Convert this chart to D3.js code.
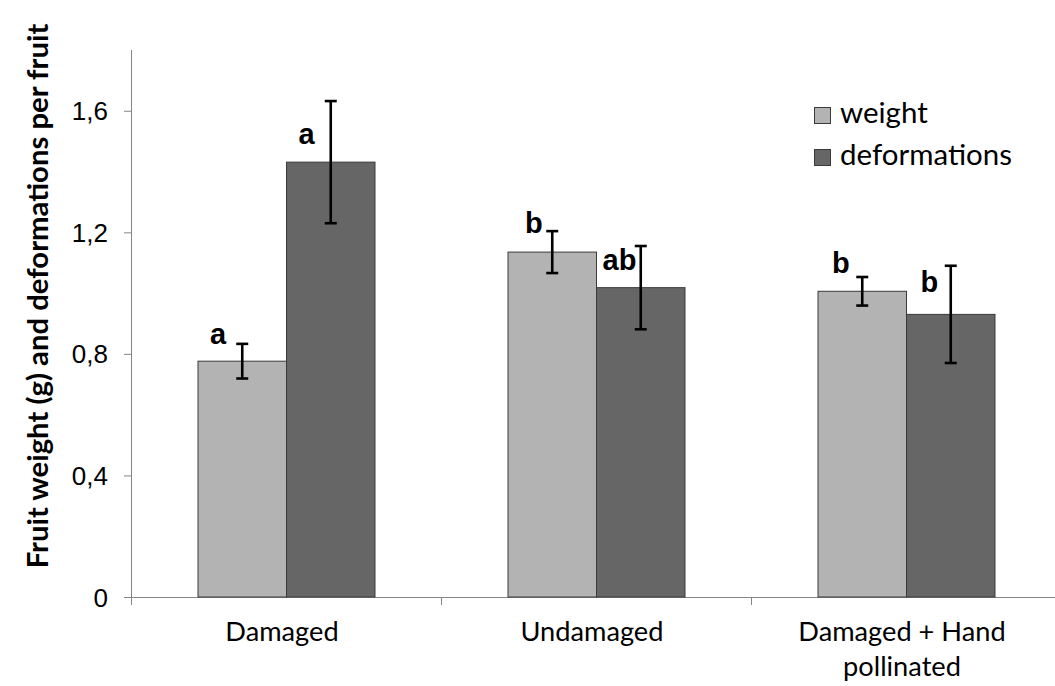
<!DOCTYPE html>
<html>
<head>
<meta charset="utf-8">
<script src="https://cdn.jsdelivr.net/npm/d3@7"></script>
<style>
  html, body { margin: 0; padding: 0; background: #fff; }
  svg { display: block; }
</style>
</head>
<body>
<svg id="chart" width="1055" height="686"></svg>
<script>
// ---- data ----
const categories = ["Damaged", "Undamaged", "Damaged + Hand pollinated"];
const categoryLines = [["Damaged"], ["Undamaged"], ["Damaged + Hand", "pollinated"]];
const seriesNames = ["weight", "deformations"];
const weightValues = [0.776, 1.135, 1.006];
const weightErrors = [0.057, 0.069, 0.047];
const deformValues = [1.431, 1.018, 0.930];
const deformErrors = [0.201, 0.137, 0.160];
const weightLetters = ["a", "b", "b"];
const deformLetters = ["a", "ab", "b"];
const yTicks = [0, 0.4, 0.8, 1.2, 1.6];
const yTickLabels = ["0", "0,4", "0,8", "1,2", "1,6"];
const yTitle = "Fruit weight (g) and deformations per fruit";

// ---- layout (not data) ----
const W = 1055, H = 686;
const plotLeft = 131, plotTop = 50, plotBottom = 597, plotRightBand = 1061;
const colors = { weight: "#b3b3b3", deformations: "#666666" };
// letter label placement: [dx from bar left, baseline offset in px from error-bar top]
const weightLetterPos = [[12, 0], [17, 2], [14, -4]];
const deformLetterPos = [[12, 43], [6, 24], [14, 26]];

const svg = d3.select("#chart");

const y = d3.scaleLinear().domain([0, 1.8]).range([plotBottom, plotTop]);
const x0 = d3.scaleBand().domain(categories).range([plotLeft, plotRightBand]).paddingInner(0).paddingOuter(0);
const groupW = 177;
const x1 = d3.scaleBand().domain(seriesNames)
  .range([(x0.bandwidth() - groupW) / 2 + 0.5, (x0.bandwidth() - groupW) / 2 + 0.5 + groupW]).padding(0);

const axisColor = "#868686";

// Y axis
const yAxis = d3.axisLeft(y).tickValues(yTicks).tickSize(7).tickFormat((d, i) => yTickLabels[i]);
const gy = svg.append("g").attr("transform", `translate(${plotLeft},0)`).call(yAxis);
gy.select(".domain").remove();
gy.selectAll(".tick line").attr("stroke", axisColor).attr("stroke-width", 1);
gy.selectAll(".tick text")
  .attr("font-family", "'Liberation Sans', Arial, sans-serif")
  .attr("font-size", 26)
  .attr("fill", "#000")
  .attr("x", -23)
  .attr("dy", "0.35em");
svg.append("line")
  .attr("x1", plotLeft + 0.5).attr("x2", plotLeft + 0.5)
  .attr("y1", plotTop).attr("y2", plotBottom + 8)
  .attr("stroke", axisColor).attr("stroke-width", 1);

// X axis
svg.append("line")
  .attr("x1", plotLeft).attr("x2", W)
  .attr("y1", plotBottom + 0.5).attr("y2", plotBottom + 0.5)
  .attr("stroke", axisColor).attr("stroke-width", 1);
const boundaries = categories.map(c => x0(c)).concat([x0(categories[categories.length - 1]) + x0.bandwidth()]);
svg.selectAll(".xtick").data(boundaries.slice(1)).enter().append("line")
  .attr("x1", d => Math.round(d) + 0.5).attr("x2", d => Math.round(d) + 0.5)
  .attr("y1", plotBottom).attr("y2", plotBottom + 8)
  .attr("stroke", axisColor).attr("stroke-width", 1);

// Bars
const groups = svg.selectAll(".grp").data(categories).enter().append("g")
  .attr("transform", c => `translate(${x0(c)},0)`);

const seriesData = [
  { name: "weight", values: weightValues, errors: weightErrors, letters: weightLetters, pos: weightLetterPos },
  { name: "deformations", values: deformValues, errors: deformErrors, letters: deformLetters, pos: deformLetterPos }
];

seriesData.forEach(s => {
  groups.append("rect")
    .attr("x", (c) => x1(s.name))
    .attr("y", (c, i) => y(s.values[i]))
    .attr("width", x1.bandwidth())
    .attr("height", (c, i) => y(0) - y(s.values[i]))
    .attr("fill", colors[s.name])
    .attr("stroke", "#3a3a3a")
    .attr("stroke-width", 1);
});

// Error bars
seriesData.forEach(s => {
  const cx = x1(s.name) + x1.bandwidth() / 2;
  const capW = 12;
  groups.append("line")
    .attr("x1", cx).attr("x2", cx)
    .attr("y1", (c, i) => y(s.values[i] + s.errors[i]))
    .attr("y2", (c, i) => y(s.values[i] - s.errors[i]))
    .attr("stroke", "#000").attr("stroke-width", 2.6);
  [1, -1].forEach(sign => {
    groups.append("line")
      .attr("x1", cx - capW / 2).attr("x2", cx + capW / 2)
      .attr("y1", (c, i) => y(s.values[i] + sign * s.errors[i]))
      .attr("y2", (c, i) => y(s.values[i] + sign * s.errors[i]))
      .attr("stroke", "#000").attr("stroke-width", 2.6);
  });
  groups.append("text")
    .attr("x", (c, i) => x1(s.name) + s.pos[i][0])
    .attr("y", (c, i) => y(s.values[i] + s.errors[i]) + s.pos[i][1])
    .attr("font-family", "'Liberation Sans', Arial, sans-serif")
    .attr("font-weight", "bold")
    .attr("font-size", 29)
    .attr("fill", "#000")
    .text((c, i) => s.letters[i]);
});

// helper: fit font size so text width equals target
function fitSize(sel, target) {
  const w = sel.node().getComputedTextLength();
  const fs = parseFloat(sel.attr("font-size"));
  sel.attr("font-size", fs * target / w);
  return fs * target / w;
}

const humanist = "Lato, 'Open Sans', sans-serif";

// Category labels
const probe = svg.append("text").attr("font-family", humanist).attr("font-size", 28).text("Undamaged");
const catSize = fitSize(probe, 143);
probe.remove();
categories.forEach((c, i) => {
  const cx = x0(c) + x0.bandwidth() / 2 - 4;
  const t = svg.append("text")
    .attr("font-family", humanist).attr("font-size", catSize)
    .attr("text-anchor", "middle").attr("fill", "#000");
  categoryLines[i].forEach((line, j) => {
    t.append("tspan").attr("x", cx).attr("y", 641 + j * 35).text(line);
  });
});

// Legend
const legendSizeProbe = svg.append("text").attr("font-family", humanist).attr("font-size", 30).text("deformations");
const legSize = fitSize(legendSizeProbe, 172);
legendSizeProbe.remove();
const legend = svg.append("g");
seriesNames.forEach((n, i) => {
  const yy = 107 + i * 42;
  legend.append("rect")
    .attr("x", 814.5).attr("y", yy + 0.5).attr("width", 16).attr("height", 16)
    .attr("fill", colors[n]).attr("stroke", "#3a3a3a").attr("stroke-width", 1);
  legend.append("text")
    .attr("x", 840).attr("y", yy + 16)
    .attr("font-family", humanist).attr("font-size", legSize).attr("fill", "#000")
    .text(n);
});

// Y axis title
const title = svg.append("text")
  .attr("font-family", humanist).attr("font-weight", "bold").attr("font-size", 26)
  .attr("text-anchor", "middle").attr("fill", "#000")
  .attr("transform", "translate(48,296) rotate(-90)")
  .text(yTitle);
fitSize(title, 545);
</script>
</body>
</html>
